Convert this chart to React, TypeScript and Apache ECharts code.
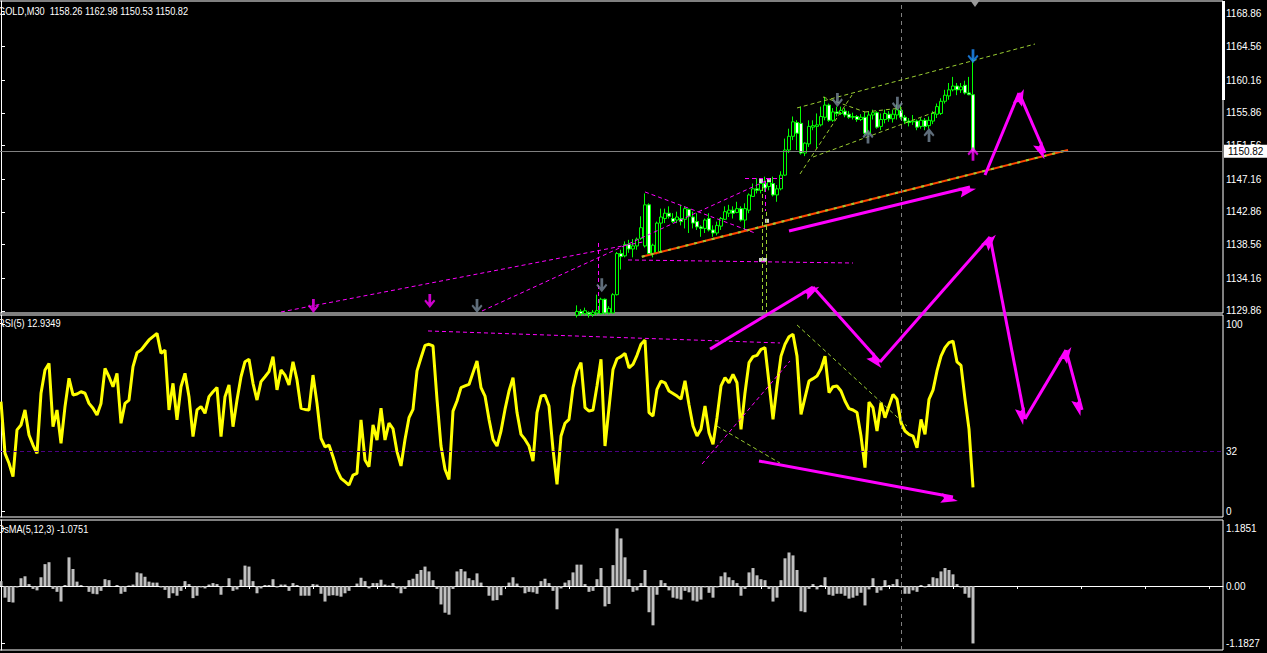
import { useEffect, useRef } from 'react';
import * as echarts from 'echarts';

const FONT = '"Liberation Sans Narrow", "Liberation Sans", Arial, sans-serif';

const SLOT_COUNT = 306;
const CURSOR_BAR = 225;
const BID = 1150.82;

const headerPrice = 'GOLD,M30  1158.26 1162.98 1150.53 1150.82';
const headerRsi = 'RSI(5) 12.9349';
const headerOsma = 'OsMA(5,12,3) -1.0751';

const priceTicks = [1129.86, 1134.16, 1138.56, 1142.86, 1147.16, 1151.56, 1155.86, 1160.16, 1164.56, 1168.86];
const rsiTicks = [0, 32, 100];
const rsiLevel = 32;
const osmaTicks = [-1.1827, 0, 1.1851];

const priceMin = 1129.595;
const priceMax = 1170.567;
const overlayPriceMin = 1085.34;
const rsiMin = -2.82;
const rsiMax = 104.8;
const osmaMin = -1.3177;
const osmaMax = 1.3589;

const rsiValues = [
  58.6, 31.1, 25.8, 18.7, 43.6, 46.2, 54.2, 40.9, 35.5, 31.1,
  63.1, 75.5, 79.0, 45.3, 54.2, 36.4, 56.0, 71.1, 62.2, 62.7,
  63.9, 63.1, 57.7, 55.1, 51.5, 57.7, 76.4, 71.9, 66.6, 73.7,
  47.1, 57.7, 59.5, 77.3, 84.7, 86.1, 88.8, 91.5, 93.3, 95.0,
  84.4, 86.1, 54.2, 68.4, 48.9, 66.6, 73.7, 61.3, 40.0, 54.2,
  56.0, 52.4, 61.3, 63.9, 66.2, 40.0, 61.3, 67.5, 45.3, 59.5,
  71.9, 79.9, 81.2, 68.4, 59.5, 69.3, 71.9, 74.6, 82.6, 64.9,
  75.5, 72.8, 67.5, 79.9, 70.2, 55.1, 54.5, 54.2, 72.8, 57.7,
  39.1, 34.6, 35.5, 29.3, 22.2, 17.8, 16.0, 14.2, 19.5, 20.4,
  48.9, 27.6, 24.0, 46.2, 38.2, 55.1, 38.2, 47.2, 44.2, 32.0,
  24.4, 38.5, 50.1, 54.5, 75.0, 82.0, 88.6, 89.2, 88.3, 59.9,
  35.0, 22.6, 17.2, 53.6, 59.0, 66.1, 67.0, 67.8, 74.1, 80.3,
  66.1, 61.6, 49.2, 38.5, 35.0, 43.0, 54.5, 64.3, 71.4, 52.8,
  41.2, 38.5, 35.0, 27.0, 52.8, 61.6, 62.0, 56.3, 33.2, 14.6,
  40.3, 47.1, 49.2, 66.1, 75.0, 79.4, 55.4, 53.6, 54.2, 67.0,
  81.2, 35.0, 55.4, 75.8, 81.5, 82.6, 84.4, 76.7, 78.5, 83.3,
  89.2, 91.5, 52.8, 51.0, 65.2, 69.6, 68.7, 64.3, 63.0, 61.6,
  60.0, 69.8, 57.0, 45.7, 40.3, 43.9, 56.3, 42.1, 35.9, 50.1,
  67.0, 71.4, 68.7, 73.2, 68.7, 43.9, 63.4, 79.4, 82.6, 83.3,
  86.5, 87.4, 68.7, 49.2, 67.0, 82.9, 89.2, 93.2, 94.5, 82.9,
  51.9, 60.8, 69.6, 70.9, 72.3, 76.2, 82.9, 63.4, 66.6, 67.0,
  64.3, 59.0, 54.9, 54.2, 52.8, 40.3, 23.5, 58.4, 55.4, 43.0,
  58.1, 50.1, 56.3, 62.5, 59.9, 47.4, 43.0, 41.2, 40.3, 34.1,
  49.2, 41.2, 59.9, 64.8, 75.0, 82.9, 87.4, 90.1, 90.9, 79.8,
  78.0, 60.0, 44.0, 12.93,
];

const osmaValues = [
  0.10, -0.24, -0.33, -0.34, -0.03, 0.16, 0.20, 0.04, -0.06, -0.09,
  0.18, 0.45, 0.49, -0.06, -0.12, -0.32, 0.02, 0.59, 0.35, 0.09,
  0.02, -0.02, -0.12, -0.16, -0.17, -0.10, 0.14, 0.12, -0.01, 0.02,
  -0.16, -0.12, 0.01, 0.03, 0.28, 0.26, 0.19, 0.09, 0.07, 0.07,
  -0.03, -0.08, -0.25, -0.15, -0.20, -0.10, 0.10, 0.04, -0.25, -0.20,
  -0.03, -0.05, 0.03, 0.06, 0.04, -0.18, -0.02, 0.16, -0.10, -0.07,
  0.13, 0.42, 0.40, 0.10, -0.15, -0.05, 0.02, 0.02, 0.14, -0.03,
  0.03, 0.03, -0.10, 0.06, 0.02, -0.20, -0.20, -0.20, 0.04, 0.03,
  -0.16, -0.32, -0.20, -0.19, -0.20, -0.22, -0.15, -0.10, -0.01, 0.05,
  0.17, 0.10, -0.05, 0.06, 0.06, 0.13, 0.03, 0.01, 0.06, -0.05,
  -0.15, -0.06, 0.12, 0.15, 0.25, 0.33, 0.40, 0.30, 0.12, -0.06,
  -0.38, -0.55, -0.59, -0.06, 0.30, 0.35, 0.30, 0.16, 0.12, 0.26,
  0.07, -0.02, -0.20, -0.30, -0.29, -0.19, -0.02, 0.07, 0.18, 0.05,
  -0.03, -0.15, -0.12, -0.13, -0.16, 0.10, 0.15, 0.06, -0.10, -0.48,
  -0.05, 0.07, 0.12, 0.28, 0.44, 0.44, 0.04, -0.12, -0.10, 0.14,
  0.37, -0.42, -0.37, 0.43, 1.1851, 0.98, 0.59, 0.14, -0.12, -0.09,
  0.06, 0.33, -0.54, -0.81, -0.18, 0.12, 0.06, -0.09, -0.24, -0.26,
  -0.28, -0.10, -0.13, -0.30, -0.32, -0.28, -0.03, -0.14, -0.24, -0.03,
  0.20, 0.28, 0.18, 0.12, 0.06, -0.20, -0.06, 0.28, 0.37, 0.22,
  0.14, 0.12, -0.06, -0.32, -0.24, 0.12, 0.57, 0.69, 0.63, 0.33,
  -0.52, -0.54, -0.06, 0.04, -0.07, 0.02, 0.18, -0.18, -0.20, -0.16,
  -0.16, -0.20, -0.26, -0.24, -0.20, -0.14, -0.40, -0.07, 0.16, -0.14,
  -0.09, 0.12, 0.02, 0.04, 0.14, -0.03, -0.16, -0.16, -0.09, -0.12,
  0.02, -0.03, 0.04, 0.18, 0.16, 0.30, 0.37, 0.33, 0.24, 0.04,
  -0.03, -0.16, -0.24, -1.1827,
];

// candles from bar CANDLE_FIRST onward: [open, close, low, high]
const CANDLE_FIRST = 144;
const candles: number[][] = [
  [1129.3, 1129.8, 1129.0, 1130.6], [1129.8, 1129.5, 1129.2, 1130.1], [1129.5, 1129.9, 1129.3, 1130.3],
  [1129.6, 1129.4, 1129.0, 1129.8], [1129.4, 1129.7, 1129.1, 1130.0], [1129.6, 1129.9, 1129.3, 1132.0],
  [1129.5, 1131.4, 1129.4, 1131.6], [1131.4, 1129.6, 1129.4, 1131.5], [1129.6, 1130.2, 1129.4, 1130.5],
  [1129.6, 1132.0, 1129.5, 1132.2], [1132.0, 1137.4, 1131.9, 1137.6], [1137.4, 1137.0, 1135.3, 1137.9],
  [1137.1, 1138.6, 1136.9, 1139.0], [1138.6, 1138.0, 1137.5, 1139.2], [1138.0, 1138.4, 1136.9, 1139.3],
  [1138.4, 1139.3, 1137.9, 1139.5], [1139.4, 1140.8, 1139.2, 1142.3], [1138.4, 1143.8, 1138.2, 1145.3],
  [1143.8, 1137.4, 1137.2, 1144.0], [1137.4, 1138.5, 1136.9, 1138.7], [1137.5, 1141.4, 1137.3, 1141.6],
  [1141.4, 1142.2, 1137.6, 1143.3], [1142.0, 1142.7, 1141.4, 1143.3], [1142.7, 1142.3, 1142.0, 1143.6],
  [1142.0, 1141.6, 1141.4, 1142.7], [1141.8, 1142.2, 1141.4, 1142.9], [1142.0, 1141.6, 1141.1, 1143.8],
  [1141.9, 1143.3, 1140.7, 1143.6], [1143.2, 1142.3, 1140.1, 1143.3], [1142.2, 1141.4, 1140.7, 1142.9],
  [1141.6, 1140.9, 1140.5, 1142.7], [1140.9, 1140.7, 1139.6, 1141.1], [1140.7, 1141.8, 1140.1, 1142.0],
  [1142.0, 1140.5, 1140.3, 1142.7], [1140.5, 1140.1, 1139.6, 1141.1], [1140.1, 1141.1, 1139.8, 1141.6],
  [1141.0, 1142.0, 1140.5, 1142.2], [1141.9, 1142.9, 1141.8, 1143.6], [1142.7, 1143.1, 1142.2, 1143.8],
  [1143.1, 1142.7, 1142.0, 1143.6], [1142.8, 1143.3, 1142.7, 1144.2], [1143.3, 1141.8, 1141.6, 1143.6],
  [1141.8, 1143.3, 1140.5, 1144.0], [1143.1, 1145.1, 1142.7, 1145.3], [1144.9, 1145.9, 1144.9, 1146.6],
  [1145.9, 1145.7, 1145.3, 1147.3], [1145.7, 1146.6, 1145.3, 1147.3], [1146.6, 1146.0, 1145.5, 1147.5],
  [1146.2, 1146.8, 1145.7, 1147.3], [1146.6, 1145.1, 1144.9, 1147.5], [1145.1, 1145.9, 1144.2, 1146.4],
  [1145.9, 1147.7, 1145.7, 1148.2], [1147.7, 1151.0, 1147.6, 1152.5], [1151.0, 1152.8, 1150.6, 1153.8],
  [1152.8, 1154.7, 1152.3, 1155.4], [1154.6, 1153.2, 1151.0, 1154.9], [1154.5, 1150.6, 1150.4, 1156.7],
  [1150.6, 1151.9, 1150.2, 1152.0], [1151.8, 1154.1, 1151.4, 1154.9], [1154.0, 1154.2, 1153.6, 1154.9],
  [1154.1, 1154.3, 1151.2, 1155.8], [1154.3, 1155.4, 1154.1, 1156.7], [1155.3, 1156.9, 1154.9, 1158.0],
  [1156.9, 1154.9, 1154.7, 1157.1], [1154.9, 1156.0, 1154.7, 1156.5], [1156.0, 1155.8, 1155.4, 1156.7],
  [1155.8, 1156.2, 1155.6, 1156.7], [1156.1, 1155.6, 1155.3, 1156.5], [1155.7, 1155.3, 1155.1, 1156.1],
  [1155.3, 1155.4, 1155.0, 1155.9], [1155.4, 1155.0, 1154.7, 1155.6], [1155.0, 1155.3, 1154.8, 1155.7],
  [1155.3, 1153.2, 1153.0, 1156.0], [1153.2, 1155.6, 1153.0, 1156.0], [1155.6, 1155.9, 1155.0, 1156.3],
  [1155.9, 1154.0, 1153.8, 1156.1], [1154.1, 1155.0, 1153.6, 1155.8], [1155.0, 1155.8, 1154.5, 1156.3],
  [1155.7, 1155.1, 1154.7, 1156.1], [1155.1, 1155.7, 1154.6, 1156.3], [1155.6, 1156.3, 1155.0, 1157.0],
  [1156.2, 1155.3, 1155.0, 1156.9], [1155.3, 1154.8, 1154.4, 1155.6], [1154.8, 1154.6, 1154.1, 1155.2],
  [1154.7, 1154.8, 1154.3, 1155.6], [1154.8, 1154.0, 1153.6, 1155.0], [1154.1, 1154.9, 1153.8, 1155.2],
  [1154.9, 1154.1, 1153.6, 1155.2], [1154.2, 1154.9, 1153.8, 1155.4], [1154.8, 1155.8, 1154.4, 1156.1],
  [1155.7, 1156.7, 1155.2, 1157.1], [1155.8, 1157.4, 1155.6, 1157.8], [1157.4, 1158.2, 1157.1, 1158.9],
  [1158.1, 1158.9, 1157.6, 1159.8], [1158.9, 1159.4, 1158.7, 1160.6], [1159.4, 1158.9, 1158.2, 1159.8],
  [1158.9, 1159.3, 1158.5, 1159.8], [1159.5, 1158.5, 1158.3, 1160.1], [1158.5, 1158.26, 1158.2, 1160.6],
  [1158.26, 1150.82, 1150.53, 1162.98],
];

// annotations in [bar, price] (price panel) or [bar, rsi] (rsi panel)
const trendLine = [[160.2, 1136.99], [266.75, 1151.0]];
const magentaDashedPrice = [
  [[70, 1129.73], [160.5, 1138.92]],
  [[120.25, 1129.86], [192.25, 1147.19]],
  [[161, 1145.49], [188.5, 1140.1]],
  [[156.75, 1136.56], [213, 1136.16]],
  [[149.25, 1138.79], [149.25, 1129.6]],
  [[191, 1146.93], [191, 1142.99]],
  [[186, 1147.32], [195.25, 1147.32]],
];
const oliveDashedPrice = [
  [[199, 1156.52], [258.5, 1164.92]],
  [[203, 1150.08], [233.5, 1155.99]],
  [[199.75, 1147.85], [212.75, 1158.22]],
  [[205.5, 1157.96], [216, 1155.99]],
  [[216, 1155.99], [225.25, 1156.52]],
  [[190.25, 1146.14], [190.25, 1129.6]],
  [[191.25, 1142.86], [191.25, 1129.6]],
];
const magentaDashedRsi = [
  [[106.75, 96.3], [194.75, 89.9]],
  [[175.25, 25.4], [197.25, 80.3]],
];
const oliveDashedRsi = [
  [[199, 99.5], [226.5, 45.6]],
  [[179, 45.6], [194.75, 25.9]],
];
// hand-drawn arrows, in price units extended below the price panel
const bigArrows = [
  [[197, 1140.36], [242.25, 1146.14]],
  [[246, 1147.72], [254.5, 1158.49]],
  [[254.5, 1158.49], [261, 1150.61]],
  [[177.25, 1124.85], [203, 1133.01]],
  [[203, 1133.01], [219.75, 1123.16]],
  [[219.75, 1123.16], [247.25, 1139.58]],
  [[247.25, 1139.58], [256, 1115.68]],
  [[256, 1115.68], [266.25, 1124.72]],
  [[266.25, 1124.72], [270.25, 1116.86]],
];
const bigArrowsRsi = [[[189.5, 27.0], [238, 7.8]]];

const greyDownArrows = [[209.1, 1157.57], [224.1, 1157.08], [150.2, 1133.23], [119, 1130.5]];
const greyUpArrows = [[216.75, 1152.77], [232, 1152.97]];
const magentaDownArrows = [[78.1, 1130.5], [107.2, 1131.17]];
const magentaUpArrows = [[243, 1150.5]];
const blueDownArrows = [[243, 1163.3]];
const fractalDots = [[190, 1146.93], [192, 1147.06], [191.5, 1141.7], [190, 1136.56], [191, 1136.56]];

const DOWN_ARROW = 'path://M4.5,0 L7.5,0 L7.5,8 L10.5,5 L12,6.5 L6,13 L0,6.5 L1.5,5 L4.5,8 Z';
const UP_ARROW = 'path://M4.5,13 L7.5,13 L7.5,5 L10.5,8 L12,6.5 L6,0 L0,6.5 L1.5,8 L4.5,5 Z';
const ARROW_HEAD = 'path://M5,0 L10,18 L5,15 L0,18 Z';

function segs(list: number[][][]) {
  return list.map((s) => [{ coord: s[0] }, { coord: s[1] }]);
}

function buildOption() {
  const slots = Array.from({ length: SLOT_COUNT }, (_, i) => String(i));
  const candleData = Array.from({ length: CANDLE_FIRST + candles.length }, (_, i) =>
    i < CANDLE_FIRST ? '-' : candles[i - CANDLE_FIRST]
  );

  const gridBase = {
    left: -1,
    right: 44,
    show: true,
    borderColor: '#ffffff',
    borderWidth: 1,
    backgroundColor: 'transparent',
    containLabel: false,
    outerBoundsMode: 'none',
  };

  const catAxis = (gridIndex: number, ticks: boolean) => ({
    type: 'category',
    gridIndex,
    data: slots,
    boundaryGap: true,
    axisLine: { show: ticks, lineStyle: { color: '#ffffff' } },
    axisTick: {
      show: ticks,
      alignWithLabel: true,
      length: 3,
      interval: (idx: number) => idx >= 14 && (idx - 14) % 16 === 0,
      lineStyle: { color: '#ffffff' },
    },
    axisLabel: { show: false },
    splitLine: { show: false },
  });

  const valAxis = (gridIndex: number) => ({
    type: 'value',
    gridIndex,
    min: -0.5,
    max: SLOT_COUNT - 0.5,
    show: false,
  });

  const yAxisBase = (gridIndex: number, min: number, max: number, ticks: number[], fmt: (v: number) => string) => ({
    type: 'value',
    gridIndex,
    position: 'right',
    min,
    max,
    splitLine: { show: false },
    axisLine: { show: true, lineStyle: { color: '#ffffff', width: 1 } },
    axisTick: { show: true, customValues: ticks, length: 4, lineStyle: { color: '#ffffff' } },
    axisLabel: {
      show: true,
      customValues: ticks,
      formatter: fmt,
      color: '#ffffff',
      fontSize: 10,
      fontFamily: FONT,
      margin: 3,
    },
  });

  const dashed = (color: string, data: any[], xAxisIndex: number, yAxisIndex: number, dash: number[] = [4, 3]) => ({
    type: 'line',
    xAxisIndex,
    yAxisIndex,
    data: [[-100, -100]],
    showSymbol: false,
    clip: false,
    silent: true,
    markLine: {
      silent: true,
      symbol: 'none',
      label: { show: false },
      lineStyle: { color, width: 1, type: dash },
      emphasis: { disabled: true },
      data,
    },
  });

  const arrowScatter = (data: number[][], symbol: string, color: string) => ({
    type: 'scatter',
    xAxisIndex: 3,
    yAxisIndex: 0,
    data,
    symbol,
    symbolSize: [11, 14],
    itemStyle: { color },
    silent: true,
    z: 5,
  });

  const bigArrowSeries = (data: number[][][], xAxisIndex: number, yAxisIndex: number, anchorY: number) => ({
    type: 'line',
    xAxisIndex,
    yAxisIndex,
    data: [[-100, anchorY]],
    showSymbol: false,
    clip: false,
    silent: true,
    z: 10,
    markLine: {
      silent: true,
      symbol: ['none', ARROW_HEAD],
      symbolSize: [10, 17],
      symbolOffset: [0, 3],
      label: { show: false },
      lineStyle: { color: '#ff00ff', width: 3, type: 'solid' },
      itemStyle: { color: '#ff00ff' },
      data: segs(data),
    },
  });

  const headerText = (text: string, x: number, y: number) => ({
    type: 'text',
    x,
    y,
    scaleX: 0.84,
    style: { text, fill: '#ffffff', font: `11px ${FONT}`, verticalAlign: 'middle' },
    z: 20,
  });

  return {
    animation: false,
    backgroundColor: '#000000',
    grid: [
      { ...gridBase, top: 1, height: 312 },
      { ...gridBase, top: 315, height: 202 },
      { ...gridBase, top: 520, height: 130 },
      { ...gridBase, show: false, top: 1, height: 649 },
    ],
    xAxis: [
      catAxis(0, false),
      catAxis(1, false),
      catAxis(2, true),
      valAxis(0),
      valAxis(1),
      valAxis(2),
      valAxis(3),
    ],
    yAxis: [
      yAxisBase(0, priceMin, priceMax, priceTicks, (v) => v.toFixed(2)),
      yAxisBase(1, rsiMin, rsiMax, rsiTicks, (v) => String(Math.round(v))),
      yAxisBase(2, osmaMin, osmaMax, osmaTicks, (v) => (v === 0 ? '0.00' : v.toFixed(4))),
      { type: 'value', gridIndex: 3, min: overlayPriceMin, max: priceMax, show: false },
    ],
    graphic: [
      headerText(headerPrice, -2, 11),
      headerText(headerRsi, -2, 323),
      headerText(headerOsma, -3, 529),
      { type: 'rect', shape: { x: 1222, y: 1, width: 3, height: 99 }, style: { fill: '#ffffff' }, z: 20 },
      {
        type: 'polygon',
        shape: { points: [[970, 0], [980, 0], [975, 7]] },
        style: { fill: '#9a9a9a' },
        z: 20,
      },
    ],
    series: [
      dashed('#808080', [{ xAxis: CURSOR_BAR }], 3, 0, [4, 4]),
      dashed('#808080', [{ xAxis: CURSOR_BAR }], 4, 1, [4, 4]),
      dashed('#808080', [{ xAxis: CURSOR_BAR }], 5, 2, [4, 4]),
      dashed('#4b0082', [{ yAxis: rsiLevel }], 4, 1, [4, 3]),
      {
        type: 'candlestick',
        xAxisIndex: 0,
        yAxisIndex: 0,
        data: candleData,
        barWidth: 3,
        clip: true,
        silent: true,
        itemStyle: {
          color: '#000000',
          color0: '#ffffff',
          borderColor: '#00ff00',
          borderColor0: '#00ff00',
          borderWidth: 1,
        },
      },
      {
        type: 'line',
        xAxisIndex: 3,
        yAxisIndex: 0,
        data: [[-100, -100]],
        showSymbol: false,
        clip: false,
        silent: true,
        markLine: {
          silent: true,
          symbol: 'none',
          lineStyle: { color: '#808080', width: 1, type: 'solid' },
          label: {
            show: true,
            position: 'end',
            distance: 1,
            formatter: BID.toFixed(2),
            color: '#000000',
            backgroundColor: '#ffffff',
            padding: [2, 4, 1, 4],
            fontSize: 10,
            fontFamily: FONT,
          },
          data: [{ yAxis: BID }],
        },
      },
      dashed('#ff00ff', segs(magentaDashedPrice), 3, 0),
      dashed('#9acd32', segs(oliveDashedPrice), 3, 0),
      dashed('#ff00ff', segs(magentaDashedRsi), 4, 1),
      dashed('#9acd32', segs(oliveDashedRsi), 4, 1),
      {
        type: 'line',
        xAxisIndex: 3,
        yAxisIndex: 0,
        data: trendLine,
        showSymbol: false,
        silent: true,
        lineStyle: { color: '#ff4500', width: 2 },
      },
      {
        type: 'line',
        xAxisIndex: 3,
        yAxisIndex: 0,
        data: trendLine,
        showSymbol: false,
        silent: true,
        lineStyle: { color: '#9acd32', width: 2, type: [3, 6] },
      },
      {
        type: 'scatter',
        xAxisIndex: 3,
        yAxisIndex: 0,
        data: fractalDots,
        symbol: 'rect',
        symbolSize: 4,
        itemStyle: { color: '#ffffff' },
        silent: true,
      },
      arrowScatter(greyDownArrows, DOWN_ARROW, '#778899'),
      arrowScatter(greyUpArrows, UP_ARROW, '#778899'),
      arrowScatter(magentaDownArrows, DOWN_ARROW, '#ff00ff'),
      arrowScatter(magentaUpArrows, UP_ARROW, '#ff00ff'),
      arrowScatter(blueDownArrows, DOWN_ARROW, '#1e90ff'),
      {
        type: 'line',
        xAxisIndex: 1,
        yAxisIndex: 1,
        data: rsiValues,
        showSymbol: false,
        silent: true,
        lineStyle: { color: '#ffff00', width: 3 },
        z: 3,
      },
      {
        type: 'bar',
        xAxisIndex: 2,
        yAxisIndex: 2,
        data: osmaValues,
        barWidth: 3,
        silent: true,
        itemStyle: { color: '#c0c0c0' },
      },
      bigArrowSeries(bigArrows, 6, 3, 1100),
      bigArrowSeries(bigArrowsRsi, 4, 1, -100),
    ],
  };
}

export default function App() {
  const ref = useRef<HTMLDivElement>(null);
  useEffect(() => {
    if (!ref.current) return;
    const chart = echarts.init(ref.current, null, { renderer: 'svg' });
    chart.setOption(buildOption() as any);
    return () => chart.dispose();
  }, []);
  return (
    <div
      ref={ref}
      style={{ position: 'absolute', left: 0, top: 0, width: 1267, height: 653, background: '#000' }}
    />
  );
}
